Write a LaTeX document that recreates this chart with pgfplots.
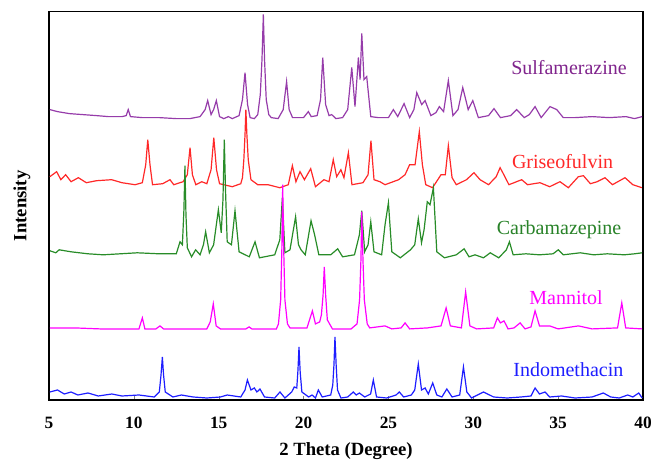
\documentclass[border=0pt]{standalone}
\usepackage{pgfplots}
\usepackage{fontspec}
\setmainfont{Liberation Serif}
\pgfplotsset{compat=1.18}

\definecolor{sulfa}{RGB}{150,60,170}
\definecolor{sulfatxt}{RGB}{128,36,140}
\definecolor{griseo}{RGB}{255,40,40}
\definecolor{carba}{RGB}{40,140,40}
\definecolor{carbatxt}{RGB}{40,130,40}
\definecolor{manni}{RGB}{255,0,255}
\definecolor{indo}{RGB}{30,30,255}

\begin{document}
\begin{tikzpicture}[lbl/.style={font=\fontsize{15}{15}\selectfont, anchor=base, inner sep=0pt}]
\begin{axis}[
  scale only axis,
  width=445.5pt,
  height=291pt,
  xmin=5, xmax=40,
  ymin=0, ymax=388,
  xtick={5,10,15,20,25,30,35,40},
  ytick=\empty,
  xtick pos=bottom,
  tick align=inside,
  major tick length=3pt,
  axis line style={black, line width=1pt},
  /pgf/number format/assume math mode=true,
  xticklabel style={font=\fontsize{13}{13}\selectfont\bfseries, anchor=base, yshift=-21pt},
  xlabel={2 Theta (Degree)},
  ylabel={Intensity},
  xlabel style={font=\fontsize{14}{14}\selectfont\bfseries, at={(axis description cs:0.5,-0.1418)}, anchor=base},
  ylabel style={font=\fontsize{14}{14}\selectfont\bfseries, at={(axis description cs:-0.0379,0.5)}, anchor=base},
  every axis plot/.append style={line width=0.9pt, mark=none},
]
% Sulfamerazine
\addplot[sulfa] coordinates {
  (5.05,290) (5.5,288) (6.2,286) (7.0,285) (7.8,284) (8.5,283) (9.3,283) (9.55,284)
  (9.67,290) (9.8,283) (10.5,282) (11.5,282) (12.5,281) (13.3,281) (13.9,283) (14.2,290)
  (14.35,299) (14.55,285) (14.7,290) (14.86,299) (15.05,283) (15.3,281) (15.57,283) (15.8,281)
  (16.2,284) (16.4,300) (16.55,327) (16.7,295) (16.85,282) (17.1,281) (17.3,285) (17.45,305)
  (17.55,340) (17.63,385) (17.7,340) (17.8,300) (17.95,285) (18.1,282) (18.5,281) (18.8,290)
  (19.0,318) (19.15,290)
  (19.35,282) (20.0,282) (20.28,288) (20.45,283) (20.8,284) (21.0,300) (21.13,342) (21.3,295)
  (21.5,284) (21.66,285) (21.9,281) (22.3,282) (22.6,290) (22.84,332) (23.03,293) (23.23,342)
  (23.33,320) (23.43,366) (23.56,320) (23.72,323) (23.96,283) (24.4,282) (25.0,282) (25.29,290)
  (25.55,283) (25.92,296) (26.25,282) (26.5,290) (26.67,307) (26.96,295) (27.16,299) (27.5,284)
  (27.8,287) (28.0,293) (28.25,288) (28.53,319) (28.8,284) (29.1,290) (29.38,312) (29.7,290)
  (29.97,299) (30.3,282) (30.9,284) (31.22,291) (31.6,282) (32.2,284) (32.56,290) (33.0,282)
  (33.3,285) (33.64,293) (34.0,282) (34.52,293) (34.92,290) (35.3,282) (36.0,282) (37.0,283)
  (38.0,282) (39.0,283) (39.5,281) (39.95,283)
};
% Griseofulvin
\addplot[griseo] coordinates {
  (5.05,223) (5.45,228) (5.7,220) (5.98,225) (6.3,218) (6.73,222) (7.2,217) (7.8,219)
  (8.69,220) (9.3,217) (10.07,215) (10.5,217) (10.7,235) (10.82,260) (10.95,235) (11.1,215)
  (11.7,216) (12.13,220) (12.35,215) (12.9,218) (13.15,225) (13.31,252) (13.45,225) (13.65,215)
  (14.0,218) (14.3,216) (14.55,230) (14.71,262) (14.87,230) (15.05,216) (15.8,213) (16.3,216)
  (16.4,222) (16.48,240) (16.55,265) (16.6,290) (16.66,265) (16.74,240) (16.9,220) (17.3,215)
  (17.9,215) (18.6,212) (19.1,215)
  (19.34,234) (19.55,218) (19.79,228) (20.05,220) (20.42,231) (20.7,213) (21.2,220) (21.5,218)
  (21.75,240) (21.95,223) (22.2,230) (22.38,222) (22.64,247) (22.85,215) (23.5,217) (23.8,225)
  (23.97,259) (24.15,220) (24.5,218) (24.8,215) (25.6,220) (25.98,225) (26.25,235) (26.57,235)
  (26.82,268) (27.0,235) (27.2,215) (27.6,212) (28.1,225) (28.35,225) (28.53,254) (28.75,222)
  (29.0,215) (29.6,220) (30.04,227) (30.4,220) (30.9,215) (31.35,223) (31.58,232) (31.8,225)
  (32.1,215) (32.85,220) (33.2,215) (33.93,217) (34.5,213) (35.11,218) (35.6,212) (36.19,223)
  (36.49,224) (36.9,216) (37.3,218) (37.76,222) (38.2,215) (38.94,222) (39.4,215) (39.93,212)
};
% Carbamazepine
\addplot[carba] coordinates {
  (5.06,149) (5.4,147) (5.6,150) (6.3,148) (7.3,146) (8.2,145) (10.2,147) (11.5,146)
  (12.5,146) (12.72,158) (12.86,155) (12.95,190) (13.01,234) (13.07,185) (13.15,152) (13.4,143)
  (13.64,150) (13.9,145)
  (14.1,155) (14.23,168) (14.45,147) (14.7,155) (14.98,190) (15.15,167) (15.25,200) (15.33,260)
  (15.4,210) (15.5,158)
  (15.75,155) (15.96,189) (16.2,148) (16.8,143) (17.14,158) (17.4,142) (18.3,145) (18.6,160)
  (18.75,202) (18.9,147) (19.2,150) (19.53,183) (19.7,155) (19.85,150) (20.1,145) (20.44,179)
  (20.65,165) (20.9,145) (21.6,145) (22.01,151) (22.3,143) (23.0,145) (23.29,165) (23.43,189)
  (23.6,148) (23.8,155) (23.96,178) (24.15,148) (24.6,145) (24.8,175) (25.0,197) (25.2,148)
  (25.7,142) (26.3,150) (26.55,155) (26.76,181) (26.95,157) (27.1,170) (27.29,198) (27.45,195)
  (27.65,212) (27.85,148) (28.3,142) (29.0,145) (29.46,151) (29.75,143) (30.1,145) (30.6,142)
  (31.0,147) (31.5,142) (31.95,150) (32.13,158) (32.35,145) (33.1,146) (33.9,145) (34.7,146)
  (35.01,150) (35.3,145) (36.3,147) (37.1,145) (37.9,146) (38.9,145) (39.5,146) (39.95,147)
};
% Mannitol
\addplot[manni] coordinates {
  (5.05,72) (6.5,72) (8.0,71) (9.5,71) (10.3,71) (10.5,82) (10.65,71) (11.3,71)
  (11.54,74) (11.75,71) (14.3,71) (14.5,78) (14.68,96) (14.85,74) (15.1,71) (16.6,71)
  (16.79,73) (16.95,71) (18.4,71) (18.52,76) (18.65,100) (18.72,150) (18.77,215) (18.83,150)
  (18.9,100) (19.05,76) (19.2,72) (20.2,72)
  (20.52,89) (20.7,76) (20.95,78) (21.05,85) (21.15,105) (21.22,133) (21.3,105) (21.4,80)
  (21.7,71) (22.8,71) (23.15,76) (23.3,100) (23.38,140) (23.43,188) (23.5,140) (23.58,100)
  (23.75,76) (23.9,72) (24.8,74) (25.2,71) (25.75,72) (25.98,77) (26.25,71)
  (27.3,72) (28.1,74) (28.4,92) (28.65,74) (29.3,72) (29.55,108) (29.8,74) (30.2,71)
  (31.2,72) (31.42,82) (31.6,77) (31.81,79) (32.05,71) (32.4,72) (32.76,77) (33.05,71)
  (33.4,73) (33.64,89) (33.9,74) (34.5,74) (35.0,71) (36.2,74) (37.0,71) (38.5,72)
  (38.75,97) (38.98,72) (39.95,71)
};
% Indomethacin
\addplot[indo] coordinates {
  (5.05,8) (5.5,10) (5.9,6) (6.3,8) (6.7,5) (7.3,7) (7.9,4) (8.7,6)
  (9.3,4) (10.3,5) (11.2,3) (11.5,8) (11.6,25) (11.68,43) (11.75,25) (11.85,8) (12.3,3) (12.8,5)
  (13.5,3) (14.3,2) (15.1,3) (15.5,5) (16.3,3) (16.55,10) (16.69,20) (16.9,10)
  (17.1,12) (17.25,8) (17.43,11) (17.7,3) (18.3,2) (18.61,8) (18.9,2) (19.3,8)
  (19.45,13) (19.6,12) (19.67,30) (19.73,53) (19.8,28) (19.9,8) (20.3,3) (20.5,5) (20.7,2) (20.87,10)
  (21.1,3) (21.6,5) (21.72,15) (21.79,35) (21.85,63) (21.92,35) (22.0,10) (22.2,2) (22.6,3) (22.93,8) (23.1,5)
  (23.29,7) (23.6,3) (23.95,6) (24.11,20) (24.3,3) (24.9,2) (25.45,5) (25.64,8)
  (25.9,3) (26.35,5) (26.55,10) (26.76,36) (26.95,10) (27.16,12) (27.35,6) (27.61,17)
  (27.85,5) (28.15,3) (28.44,11) (28.75,3) (29.2,5) (29.42,33) (29.62,8) (29.9,2)
  (30.6,8) (31.2,3) (32.0,2) (32.8,3) (33.4,4) (33.64,12) (33.9,6) (34.23,8)
  (34.5,3) (35.2,4) (36.0,2) (37.0,3) (37.66,7) (38.1,3) (38.6,2) (39.1,5)
  (39.4,3) (39.75,7) (39.95,2)
};
% series names
\node[lbl, text=sulfatxt] at (axis cs:35.64,325) {Sulfamerazine};
\node[lbl, text=griseo] at (axis cs:35.26,230.7) {Griseofulvin};
\node[lbl, text=carbatxt] at (axis cs:35.05,165) {Carbamazepine};
\node[lbl, text=manni] at (axis cs:35.47,95) {Mannitol};
\node[lbl, text=indo] at (axis cs:35.6,23.3) {Indomethacin};
\end{axis}
\pgfresetboundingbox
\path (current axis.south west) ++(-36.75pt,-45pt) rectangle ++(489pt,345pt);
\end{tikzpicture}
\end{document}
